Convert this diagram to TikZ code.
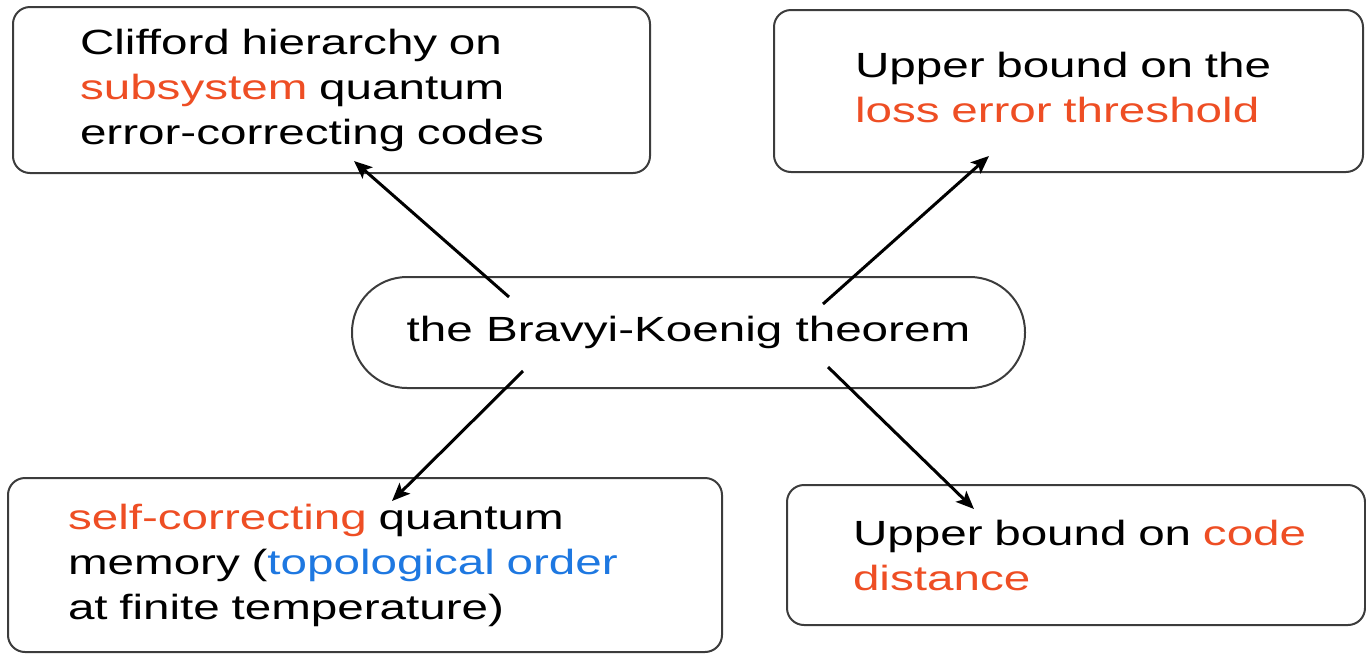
\documentclass[tikz,border=0pt]{standalone}
\usepackage{fontspec}
\setmainfont{Liberation Sans}[FakeStretch=1.36]
\usetikzlibrary{arrows.meta}
\definecolor{hl}{RGB}{238,78,36}
\definecolor{bl}{RGB}{30,120,225}
\definecolor{edge}{RGB}{60,60,60}
\hfuzz=200pt
\tikzset{
  txt/.style={font=\fontsize{35}{45}\selectfont},
  infobox/.style={draw=edge, line width=2pt, rounded corners=17pt, txt, align=left, inner ysep=0pt},
  theorem/.style={draw=edge, line width=2pt, rounded corners=55pt, txt, minimum width=673pt, minimum height=111pt, inner sep=0pt},
  link/.style={line width=3pt, -{Stealth[length=18pt,width=15pt,inset=4pt]}}
}
\begin{document}
\begin{tikzpicture}[x=1pt,y=-1pt]
\useasboundingbox (0,0) rectangle (1366,654);
\node[theorem] (bk) at (688.5,332.5) {the Bravyi-Koenig theorem};
\node[infobox, inner xsep=67pt, text width=503pt, minimum height=166pt] (tl) at (331.5,90)
  {Clifford hierarchy on\\\textcolor{hl}{subsystem} quantum\\error-correcting codes};
\node[infobox, inner xsep=81pt, text width=427pt, minimum height=162pt] (tr) at (1068.5,91)
  {\mbox{Upper bound on the}\\\mbox{\textcolor{hl}{loss error threshold}}\\[-37pt]\mbox{}};
\node[infobox, inner xsep=60pt, text width=594pt, minimum height=174pt] (blx) at (365,565)
  {\textcolor{hl}{self-correcting} quantum\\memory (\textcolor{bl}{topological order}\\at finite temperature)};
\node[infobox, inner xsep=66pt, text width=446pt, minimum height=140pt] (br) at (1076,555)
  {\mbox{Upper bound on \textcolor{hl}{code}}\\\textcolor{hl}{distance}};
\draw[link] ([shift={(158,21)}]bk.north west) -- ([shift={(342,-13)}]tl.south west);
\draw[link] ([shift={(472,28)}]bk.north west) -- ([shift={(216,-17)}]tr.south west);
\draw[link] ([shift={(172,-18)}]bk.south west) -- ([shift={(385,24)}]blx.north west);
\draw[link] ([shift={(477,-22)}]bk.south west) -- ([shift={(188,25)}]br.north west);
\end{tikzpicture}
\end{document}
